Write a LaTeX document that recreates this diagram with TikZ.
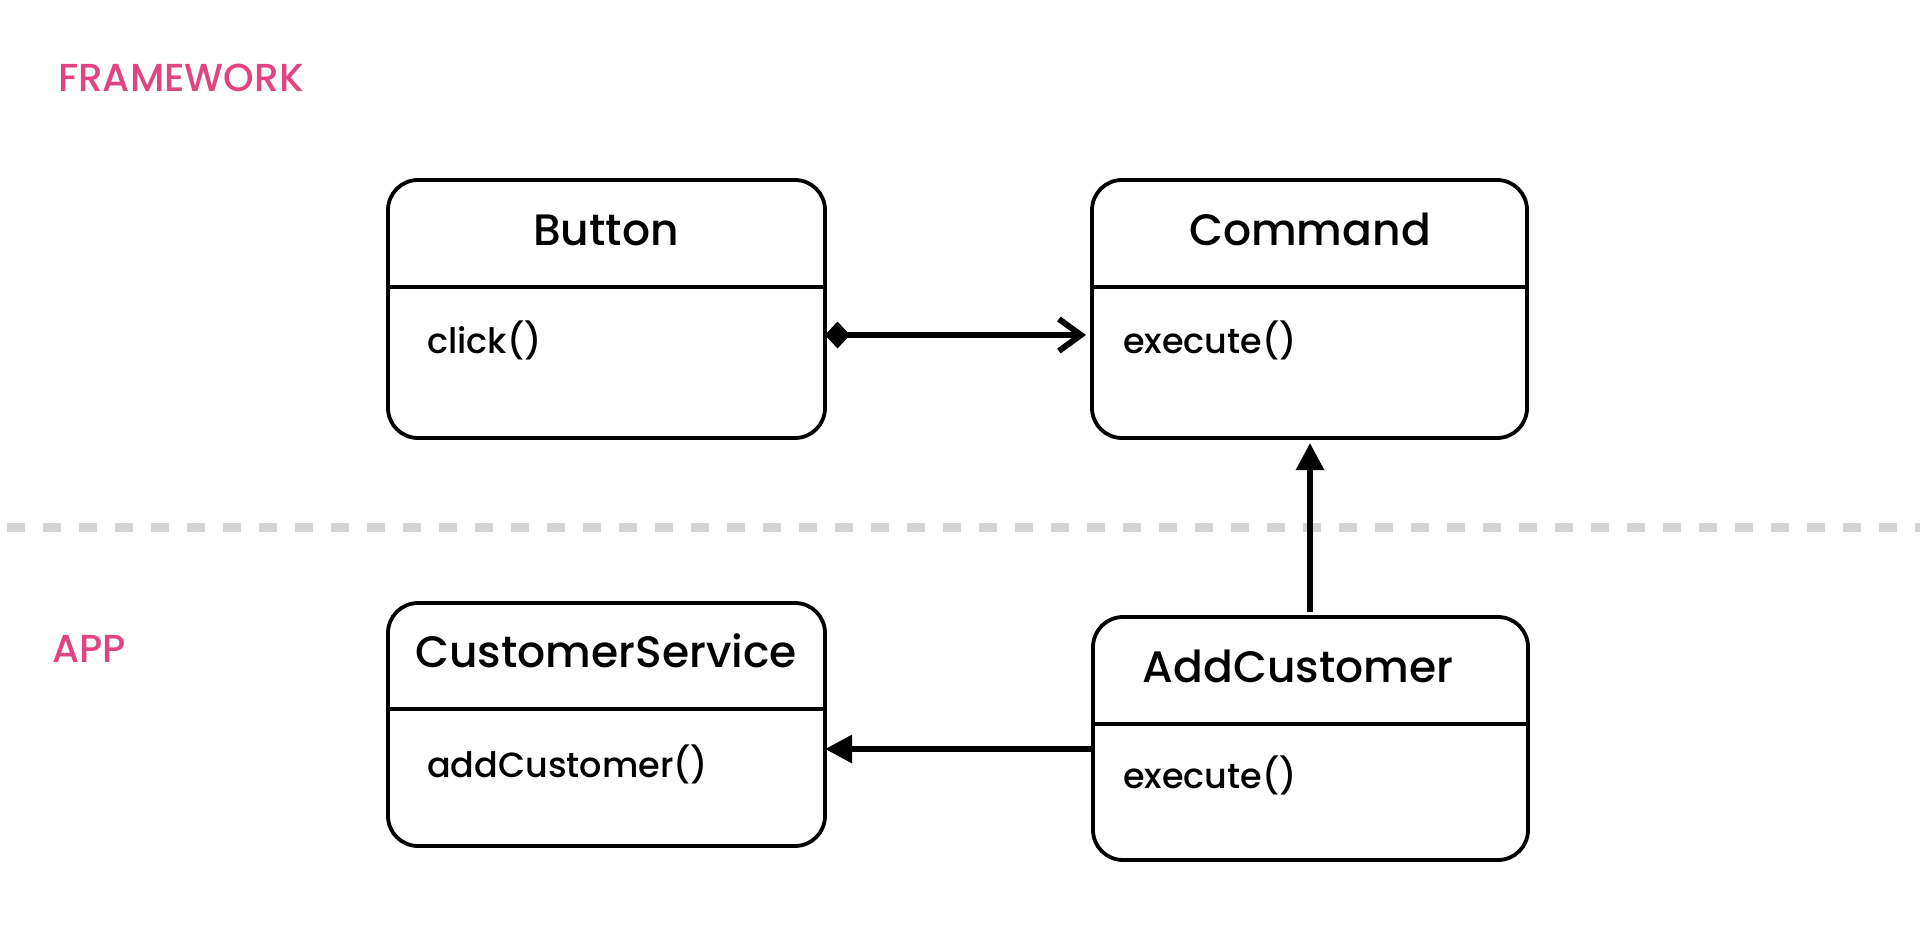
\documentclass[tikz,border=0pt]{standalone}
\usepackage{fontspec}
\setmainfont{Poppins}[UprightFont={* Medium}]
\usetikzlibrary{arrows.meta,calc}
\definecolor{sectionpink}{HTML}{E04482}
\definecolor{dividergray}{HTML}{D5D5D5}
\begin{document}
\begin{tikzpicture}[x=1pt,y=-1pt,
  classbox/.style={draw=black, line width=3.8pt, rounded corners=30pt,
    inner sep=0pt, outer sep=0pt, anchor=north west},
  classtitle/.style={anchor=base, inner sep=0pt, font=\fontsize{44}{48}\selectfont},
  classop/.style={anchor=base west, inner sep=0pt, font=\fontsize{35}{39}\selectfont},
  section/.style={anchor=base west, inner sep=0pt, text=sectionpink,
    font=\fontsize{39}{43}\selectfont},
  link/.style={line width=6pt},
  splitline/.style={line width=3.8pt}
]
\useasboundingbox (0,0) rectangle (1920,931);
\fill[white] (0,0) rectangle (1920,931);

% layer separator
\draw[dividergray, line width=9pt, dash pattern=on 18pt off 18pt]
  (7,527) -- (1920,527);

% layer labels
\node[section] (lblframework) at (58,92) {FRAMEWORK};
\node[section] (lblapp) at (52,662) {APP};

% classes
\node[classbox, minimum width=437pt, minimum height=258pt] (button) at (388,180) {};
\node[classbox, minimum width=435pt, minimum height=258pt] (command) at (1092,180) {};
\node[classbox, minimum width=437pt, minimum height=243pt] (service) at (388,603) {};
\node[classbox, minimum width=435pt, minimum height=243pt] (addcust) at (1093,617) {};

% compartment separators
\draw[splitline] (button.west |- 0,287) -- (button.east |- 0,287);
\draw[splitline] (command.west |- 0,287) -- (command.east |- 0,287);
\draw[splitline] (service.west |- 0,709) -- (service.east |- 0,709);
\draw[splitline] (addcust.west |- 0,724) -- (addcust.east |- 0,724);

% names
\node[classtitle] (buttonname) at (606,245) {Button};
\node[classtitle] (commandname) at (1310,245) {Command};
\node[classtitle] (servicename) at (606,667) {CustomerService};
\node[classtitle] (addcustname) at (1298,682) {AddCustomer};

% operations
\node[classop] (buttonop) at (427,353) {click()};
\node[classop] (commandop) at (1123,353) {execute()};
\node[classop] (serviceop) at (427,777) {addCustomer()};
\node[classop] (addcustop) at (1123,788) {execute()};

% relations
\draw[link, {Diamond[length=25pt,width=27pt]}-{Straight Barb[length=22pt,width=32pt,line width=6pt]}, shorten >=6pt]
  (button.east |- 0,335) -- (command.west |- 0,335);
\draw[link, -{Triangle[length=27pt,width=27pt]}, shorten >=5pt, shorten <=5pt]
  (addcust.north -| 1310,0) -- (command.south -| 1310,0);
\draw[link, -{Triangle[length=27pt,width=27pt]}]
  (addcust.west |- 0,749) -- (service.east |- 0,749);
\end{tikzpicture}
\end{document}
